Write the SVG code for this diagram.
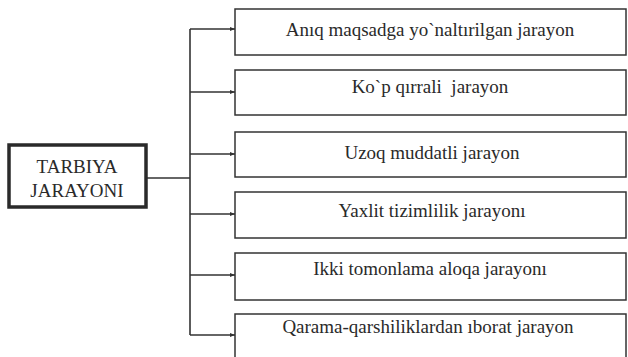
<svg xmlns="http://www.w3.org/2000/svg" width="628" height="357" viewBox="0 0 628 357">
<style>
.box{fill:#fff;stroke:#333;stroke-width:1.5}
.main{fill:#fff;stroke:#2a2a2a;stroke-width:3.5}
.t{font-size:19px;fill:#2a2a2a;text-anchor:middle}
.c{fill:none;stroke:#333;stroke-width:1.6}
</style>
<defs>
<marker id="ah" viewBox="0 0 10 10" refX="10" refY="5" markerWidth="5" markerHeight="4" markerUnits="userSpaceOnUse" orient="auto" preserveAspectRatio="none">
<path d="M0,0 L10,5 L0,10 Z" fill="#333"/>
</marker>
</defs>
<rect width="628" height="357" fill="#fff"/>
<g id="connectors">
<path class="c" d="M147,178 H190" stroke-width="3.2"/>
<path class="c" d="M190,29 V335"/>
<path class="c" d="M190,29 H235" marker-end="url(#ah)"/>
<path class="c" d="M190,92 H235" marker-end="url(#ah)"/>
<path class="c" d="M190,154 H235" marker-end="url(#ah)"/>
<path class="c" d="M190,214 H235" marker-end="url(#ah)"/>
<path class="c" d="M190,275 H235" marker-end="url(#ah)"/>
<path class="c" d="M190,335 H235" marker-end="url(#ah)"/>
</g>
<g font-family="'Liberation Serif', 'DejaVu Serif', serif">
<g id="tarbiya">
<rect class="main" x="9" y="145" width="137" height="62"/>
<text class="t" x="77" y="173">TARBIYA</text>
<text class="t" x="77" y="197">JARAYONI</text>
</g>
<g id="n1">
<rect class="box" x="235" y="9" width="391" height="46"/>
<text class="t" x="430" y="36">Anıq maqsadga yo`naltırilgan jarayon</text>
</g>
<g id="n2">
<rect class="box" x="235" y="70" width="391" height="45"/>
<text class="t" x="430" y="93" xml:space="preserve">Ko`p qırrali  jarayon</text>
</g>
<g id="n3">
<rect class="box" x="235" y="132" width="391" height="45"/>
<text class="t" x="432" y="159">Uzoq muddatli jarayon</text>
</g>
<g id="n4">
<rect class="box" x="235" y="192" width="391" height="46"/>
<text class="t" x="432" y="217">Yaxlit tizimlilik jarayonı</text>
</g>
<g id="n5">
<rect class="box" x="235" y="253" width="391" height="47"/>
<text class="t" x="430" y="275">Ikki tomonlama aloqa jarayonı</text>
</g>
<g id="n6">
<rect class="box" x="235" y="314" width="391" height="46"/>
<text class="t" x="428" y="333">Qarama-qarshiliklardan ıborat jarayon</text>
</g>
</g>
</svg>
